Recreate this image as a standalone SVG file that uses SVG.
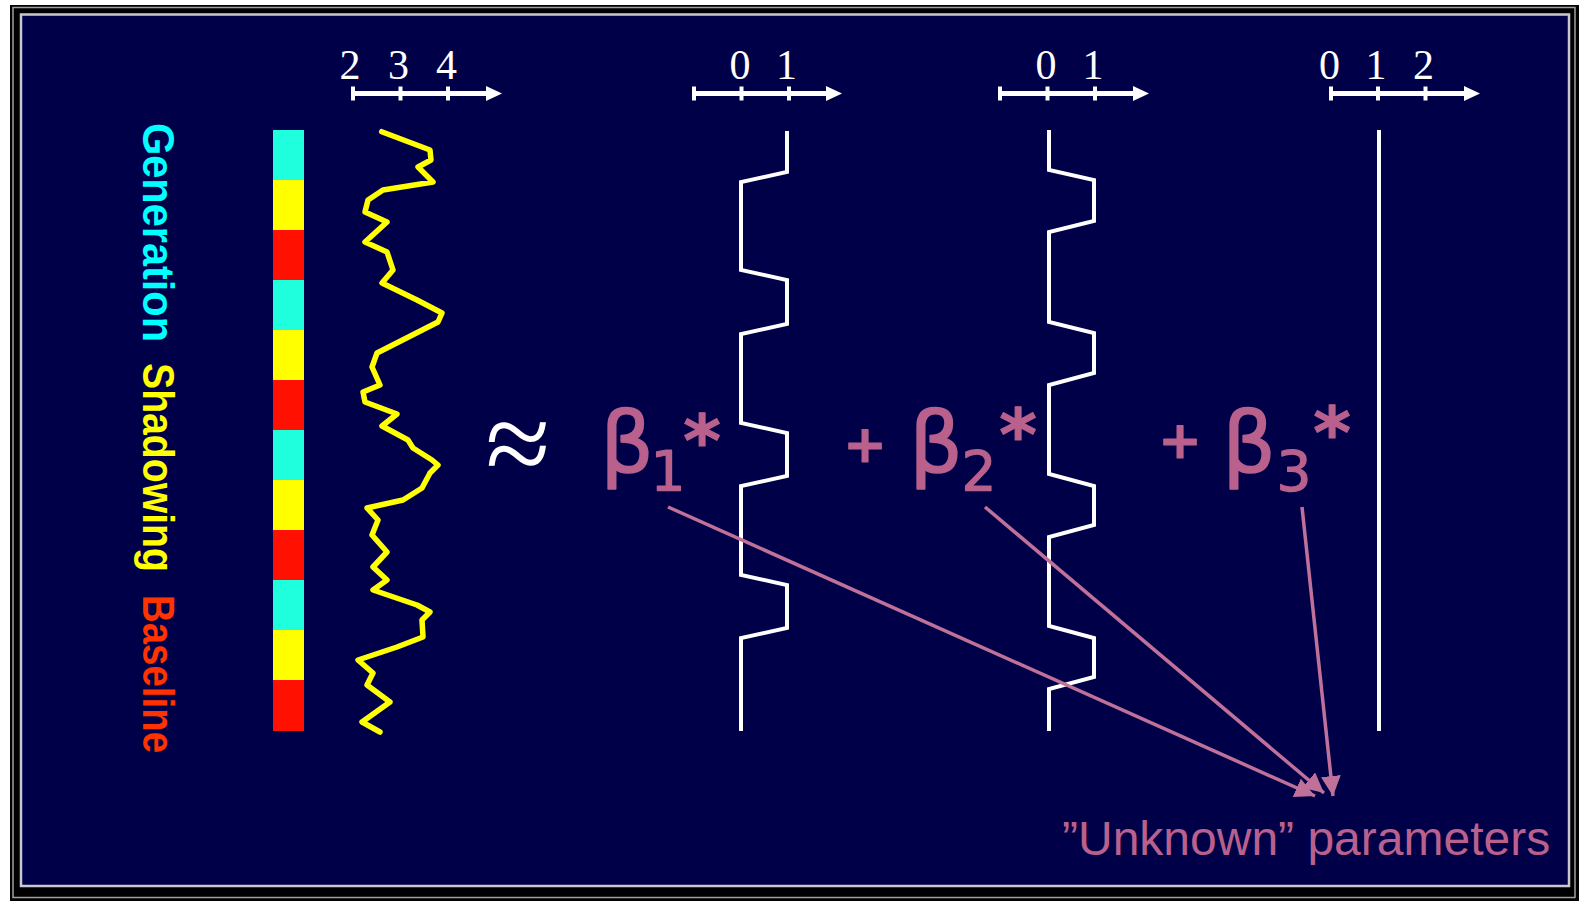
<svg xmlns="http://www.w3.org/2000/svg" width="1579" height="901" viewBox="0 0 1579 901">
<style>
.ax{stroke:#fff;stroke-width:5;fill:none}
.tk{stroke:#fff;stroke-width:4}
.ah{fill:#fff}
.num{font-family:"Liberation Serif",serif;font-size:42px;fill:#fff;text-anchor:middle}
.sq{stroke:#fff;stroke-width:4;fill:none;stroke-linejoin:miter}
.vt{font-family:"Liberation Sans",Arial,sans-serif;font-weight:bold;font-size:44px}
.pk{font-family:"DejaVu Sans",sans-serif;fill:#B9618C;text-anchor:middle;stroke:#B9618C;stroke-linejoin:round}
.b{font-size:84px;stroke-width:1.5}
.sub{font-size:55px;stroke-width:1.2}
.pl{font-size:52px;font-weight:bold;stroke-width:1}
.st{font-size:72px;font-weight:bold;stroke-width:1}
.conn{stroke:#C0719A;stroke-width:3.5;fill:none}
</style>
<defs>
<marker id="ar" markerUnits="userSpaceOnUse" markerWidth="22" markerHeight="20" refX="20" refY="10" orient="auto">
<path d="M0,0 L20,10 L0,20 Z" fill="#C0719A"/>
</marker>
</defs>
<rect x="0" y="0" width="1579" height="901" fill="#fff"/>
<rect x="10" y="5" width="1569" height="896" fill="#000"/>
<rect x="13" y="7.5" width="1562" height="890" fill="none" stroke="#a0a0a0" stroke-width="1.5"/>
<rect x="21" y="14.5" width="1548" height="871.5" fill="#000048" stroke="#c8c8d0" stroke-width="2.5"/>

<g id="legend-text">
<text class="vt" fill="#00FFFF" transform="translate(143,123) rotate(90)" textLength="219" lengthAdjust="spacingAndGlyphs">Generation</text>
<text class="vt" fill="#FFFF00" transform="translate(143,363) rotate(90)" textLength="209" lengthAdjust="spacingAndGlyphs">Shadowing</text>
<text class="vt" fill="#FF3300" transform="translate(143,595) rotate(90)" textLength="158" lengthAdjust="spacingAndGlyphs">Baseline</text>
</g>

<g id="color-bar">
<rect x="273" y="130" width="31" height="50" fill="#20FFDD"/>
<rect x="273" y="180" width="31" height="50" fill="#FFFF00"/>
<rect x="273" y="230" width="31" height="50" fill="#FF1000"/>
<rect x="273" y="280" width="31" height="50" fill="#20FFDD"/>
<rect x="273" y="330" width="31" height="50" fill="#FFFF00"/>
<rect x="273" y="380" width="31" height="50" fill="#FF1000"/>
<rect x="273" y="430" width="31" height="50" fill="#20FFDD"/>
<rect x="273" y="480" width="31" height="50" fill="#FFFF00"/>
<rect x="273" y="530" width="31" height="50" fill="#FF1000"/>
<rect x="273" y="580" width="31" height="50" fill="#20FFDD"/>
<rect x="273" y="630" width="31" height="50" fill="#FFFF00"/>
<rect x="273" y="680" width="31" height="51" fill="#FF1000"/>
</g>

<g id="signal">
<polyline fill="none" stroke="#FFFF00" stroke-width="5.5" stroke-linejoin="round" stroke-linecap="round" points="381.7,131.7 430,150 431,160 418,167 433,182 383,190 368,200 365,212 387,222 365,242 387,252 393,270 382,283 417,300 442,313 438,322 377,353 372,367 380,385 363,392 365,402 397,414 382,426 408,440 413,448 432,460 438,465 430,473 422,488 403,500 367,508 378,520 372,535 387,552 373,567 387,580 373,590 417,605 430,612 422,620 423,637 397,647 358,660 373,673 367,685 390,702 362,722 380,732"/>
</g>

<g id="axis1">
<line class="ax" x1="353" y1="93.5" x2="488" y2="93.5"/>
<line class="tk" x1="353" y1="86.5" x2="353" y2="100.5"/>
<line class="tk" x1="400.5" y1="86.5" x2="400.5" y2="100.5"/>
<line class="tk" x1="448" y1="86.5" x2="448" y2="100.5"/>
<polygon class="ah" points="486,86 502,93.5 486,101"/>
<text class="num" x="350" y="79">2</text>
<text class="num" x="398.5" y="79">3</text>
<text class="num" x="446.5" y="79">4</text>
</g>

<g id="axis2">
<line class="ax" x1="694" y1="93.5" x2="828" y2="93.5"/>
<line class="tk" x1="694" y1="86.5" x2="694" y2="100.5"/>
<line class="tk" x1="741.5" y1="86.5" x2="741.5" y2="100.5"/>
<line class="tk" x1="789" y1="86.5" x2="789" y2="100.5"/>
<polygon class="ah" points="826,86 842,93.5 826,101"/>
<text class="num" x="740" y="79">0</text>
<text class="num" x="786.5" y="79">1</text>
</g>

<g id="axis3">
<line class="ax" x1="1000" y1="93.5" x2="1135" y2="93.5"/>
<line class="tk" x1="1000" y1="86.5" x2="1000" y2="100.5"/>
<line class="tk" x1="1047.5" y1="86.5" x2="1047.5" y2="100.5"/>
<line class="tk" x1="1095" y1="86.5" x2="1095" y2="100.5"/>
<polygon class="ah" points="1133,86 1149,93.5 1133,101"/>
<text class="num" x="1046" y="79">0</text>
<text class="num" x="1093" y="79">1</text>
</g>

<g id="axis4">
<line class="ax" x1="1331" y1="93.5" x2="1466" y2="93.5"/>
<line class="tk" x1="1331" y1="86.5" x2="1331" y2="100.5"/>
<line class="tk" x1="1378" y1="86.5" x2="1378" y2="100.5"/>
<line class="tk" x1="1425.5" y1="86.5" x2="1425.5" y2="100.5"/>
<polygon class="ah" points="1464,86 1480,93.5 1464,101"/>
<text class="num" x="1329.5" y="79">0</text>
<text class="num" x="1376" y="79">1</text>
<text class="num" x="1423.5" y="79">2</text>
</g>

<g id="regressor1">
<path class="sq" d="M787,131 V172 L741,182 V270 L787,280 V324 L741,334 V423 L787,433 V476 L741,486 V575 L787,585 V628 L741,638 V731"/>
</g>
<g id="regressor2">
<path class="sq" d="M1049,130 V170 L1094,180 V221 L1049,232 V322 L1094,333 V373 L1049,385 V474 L1094,486 V525 L1049,537 V626 L1094,638 V677 L1049,689 V731"/>
</g>
<g id="regressor3">
<line class="sq" x1="1379" y1="130" x2="1379" y2="731"/>
</g>

<g id="approx">
<text x="518" y="483" font-family="Liberation Serif,serif" font-size="118" fill="#fff" text-anchor="middle">≈</text>
</g>

<g id="beta1">
<text class="pk b" x="627" y="472">β</text>
<text class="pk sub" x="668" y="490">1</text>
<text class="pk st" x="702" y="466">*</text>
</g>
<g id="beta2">
<text class="pk pl" x="865" y="462">+</text>
<text class="pk b" x="936" y="472">β</text>
<text class="pk sub" x="979" y="490">2</text>
<text class="pk st" x="1018" y="460">*</text>
</g>
<g id="beta3">
<text class="pk pl" x="1180" y="458">+</text>
<text class="pk b" x="1249" y="472">β</text>
<text class="pk sub" x="1294" y="490">3</text>
<text class="pk st" x="1332" y="458">*</text>
</g>

<g id="connectors">
<line class="conn" x1="668" y1="507" x2="1315" y2="796" marker-end="url(#ar)"/>
<line class="conn" x1="985" y1="507" x2="1324" y2="793" marker-end="url(#ar)"/>
<line class="conn" x1="1302" y1="507" x2="1333" y2="796" marker-end="url(#ar)"/>
</g>

<g id="label-unknown">
<text x="1062" y="855" font-family="Liberation Sans,Arial,sans-serif" font-size="48" fill="#B9618C">”Unknown” parameters</text>
</g>
</svg>
